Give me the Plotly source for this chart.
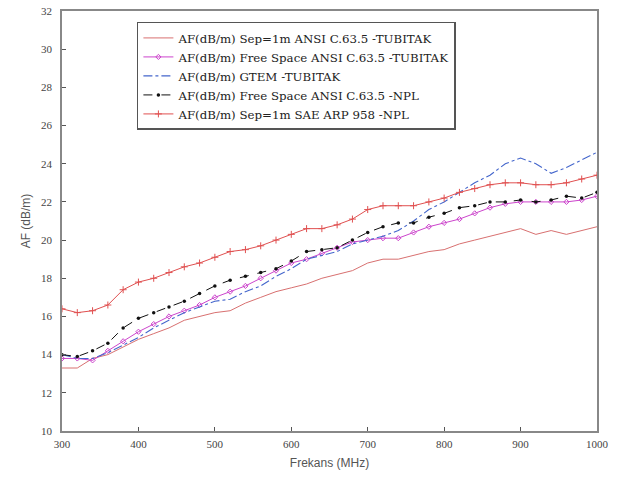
import plotly.graph_objects as go

freq = [300, 320, 340, 360, 380, 400, 420, 440, 460, 480, 500, 520, 540, 560, 580, 600,
        620, 640, 660, 680, 700, 720, 740, 760, 780, 800, 820, 840, 860, 880, 900, 920,
        940, 960, 980, 1000]

sep1m_ansi_tubitak = [13.3, 13.3, 13.8, 14.0, 14.4, 14.8, 15.1, 15.4, 15.8, 16.0, 16.2, 16.3,
                      16.7, 17.0, 17.3, 17.5, 17.7, 18.0, 18.2, 18.4, 18.8, 19.0, 19.0, 19.2,
                      19.4, 19.5, 19.8, 20.0, 20.2, 20.4, 20.6, 20.3, 20.5, 20.3, 20.5, 20.7]

free_ansi_tubitak = [13.8, 13.8, 13.7, 14.2, 14.7, 15.2, 15.6, 16.0, 16.3, 16.6, 17.0, 17.3,
                     17.6, 18.0, 18.4, 18.8, 19.0, 19.3, 19.6, 19.9, 20.0, 20.1, 20.1, 20.4,
                     20.7, 20.9, 21.1, 21.4, 21.7, 21.9, 22.0, 22.0, 22.0, 22.0, 22.1, 22.3]

gtem_tubitak = [14.0, 13.8, 13.8, 14.1, 14.5, 14.9, 15.4, 15.8, 16.2, 16.5, 16.8, 16.9,
                17.3, 17.6, 18.1, 18.5, 19.0, 19.2, 19.4, 19.8, 20.0, 20.2, 20.5, 21.0,
                21.6, 22.0, 22.5, 23.0, 23.4, 24.0, 24.3, 24.0, 23.5, 23.8, 24.2, 24.6]

free_ansi_npl = [14.0, 13.9, 14.2, 14.6, 15.4, 15.9, 16.2, 16.5, 16.8, 17.2, 17.6, 17.9,
                 18.1, 18.3, 18.5, 18.9, 19.4, 19.5, 19.6, 20.0, 20.4, 20.7, 20.9, 20.9,
                 21.2, 21.4, 21.7, 21.8, 22.0, 22.0, 22.1, 22.0, 22.1, 22.3, 22.2, 22.5]

sep1m_sae_npl = [16.4, 16.2, 16.3, 16.6, 17.4, 17.8, 18.0, 18.3, 18.6, 18.8, 19.1, 19.4,
                 19.5, 19.7, 20.0, 20.3, 20.6, 20.6, 20.8, 21.1, 21.6, 21.8, 21.8, 21.8,
                 22.0, 22.2, 22.5, 22.7, 22.9, 23.0, 23.0, 22.9, 22.9, 23.0, 23.2, 23.4]

names = [
    "AF(dB/m) Sep=1m ANSI C.63.5 -TUBITAK",
    "AF(dB/m) Free Space ANSI C.63.5 -TUBITAK",
    "AF(dB/m) GTEM -TUBITAK",
    "AF(dB/m) Free Space ANSI C.63.5 -NPL",
    "AF(dB/m) Sep=1m SAE ARP 958 -NPL",
]

fig = go.Figure()
fig.add_trace(go.Scatter(x=freq, y=sep1m_ansi_tubitak, name=names[0], mode="lines",
                         line=dict(color="#d87070", width=1)))
fig.add_trace(go.Scatter(x=freq, y=free_ansi_tubitak, name=names[1], mode="lines+markers",
                         line=dict(color="#cc44cc", width=1),
                         marker=dict(symbol="diamond-open", size=4, color="#cc44cc")))
fig.add_trace(go.Scatter(x=freq, y=gtem_tubitak, name=names[2], mode="lines",
                         line=dict(color="#4466cc", width=1.1, dash="dashdot")))
fig.add_trace(go.Scatter(x=freq, y=free_ansi_npl, name=names[3], mode="lines+markers",
                         line=dict(color="#111111", width=1, dash="dash"),
                         marker=dict(symbol="circle", size=3.5, color="#111111")))
fig.add_trace(go.Scatter(x=freq, y=sep1m_sae_npl, name=names[4], mode="lines+markers",
                         line=dict(color="#e05050", width=1),
                         marker=dict(symbol="cross-thin-open", size=5,
                                     line=dict(color="#e05050", width=1))))

axis_common = dict(showline=True, linecolor="#888888", linewidth=1.5, mirror=True,
                   ticks="inside", ticklen=4, tickcolor="#555555", showgrid=False,
                   zeroline=False, automargin=False,
                   tickfont=dict(family="Liberation Serif", size=11, color="#444444"))

fig.update_layout(
    width=623, height=479,
    margin=dict(l=62, r=26, t=11, b=48),
    paper_bgcolor="white", plot_bgcolor="white",
    xaxis=dict(range=[300, 1000], dtick=100, ticklabelstandoff=2,
               title=dict(text="Frekans (MHz)", standoff=10,
                          font=dict(family="Liberation Sans", size=12, color="#555555")),
               **axis_common),
    yaxis=dict(range=[10, 32], dtick=2, ticklabelstandoff=6,
               title=dict(text="AF (dB/m)", standoff=8,
                          font=dict(family="Liberation Sans", size=12, color="#555555")),
               **axis_common),
    legend=dict(x=0.14, y=0.974, xanchor="left", yanchor="top",
                bgcolor="white", bordercolor="#555555", borderwidth=1.5,
                font=dict(family="DejaVu Serif", size=11.8, color="#222222"),
                tracegroupgap=0, itemwidth=30),
    showlegend=True,
)

fig.write_html("out.html", config={"displayModeBar": False},
               post_script="document.body.style.margin='0px';")
